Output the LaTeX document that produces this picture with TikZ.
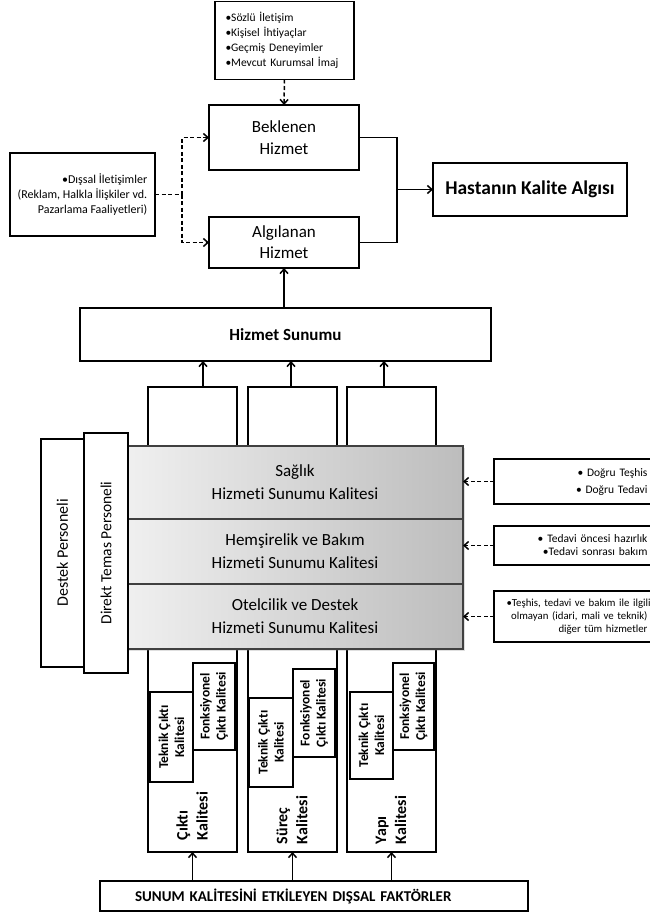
\documentclass[tikz,border=0pt]{standalone}
\usepackage{fontspec}
\setmainfont{Carlito}[Ligatures={NoCommon}]
\usetikzlibrary{arrows.meta,calc,shadows}
\newcommand\fsz[2]{\fontsize{#1}{#2}\selectfont}
\begin{document}
\begin{tikzpicture}[x=1pt,y=-1pt,
  box/.style={draw, line width=1.5pt, inner sep=0pt, outer sep=0pt, align=center, fill=white},
  ln/.style={line width=1.5pt},
  arr/.style={ln, -{Straight Barb[length=4.5pt,width=8pt]}},
  dl/.style={line width=1.5pt, dash pattern=on 4pt off 2.5pt},
  darr/.style={dl, -{Straight Barb[length=4.5pt,width=8pt]}},
  band/.style={draw=black!75, line width=1.2pt, left color=black!6, right color=black!26,
    minimum width=336pt, inner sep=0pt, outer sep=0pt, align=center, font=\fsz{17}{23},
    drop shadow={opacity=0.25, shadow xshift=2pt, shadow yshift=-2pt}},
  rbox/.style={box, minimum width=166pt, text width=141pt, align=right},
  col/.style={box, minimum width=89pt, minimum height=465pt},
  inbox/.style={box, rotate=90, font=\bfseries\fsz{13.5}{16}},
  collab/.style={rotate=90, align=left, font=\bfseries\fsz{16}{20}, inner sep=0pt}
]
\useasboundingbox (0,0) rectangle (650,915);
\clip (0,0) rectangle (650,915);

% top part
\node[box, minimum width=139pt, minimum height=78pt, text width=118pt, align=left, font=\fsz{11.5}{15}] (src) at (284.5,40.5)
  {•Sözlü İletişim\\•Kişisel İhtiyaçlar\\•Geçmiş Deneyimler\\•Mevcut Kurumsal İmaj};
\node[box, minimum width=150pt, minimum height=65pt, font=\fsz{17}{22}] (bek) at (284,137.5) {Beklenen\\Hizmet};
\node[box, minimum width=150pt, minimum height=51pt, font=\fsz{17}{21}] (alg) at (284,242.5) {Algılanan\\Hizmet};
\node[box, minimum width=145pt, minimum height=83pt, align=right, font=\fsz{12}{15}] (dis) at (82.5,194.5)
  {•Dışsal İletişimler\\(Reklam, Halkla İlişkiler vd.\\Pazarlama Faaliyetleri)};
\node[box, minimum width=194pt, minimum height=53pt, font=\bfseries\fsz{19.5}{23}] (hast) at (530,189.5) {Hastanın Kalite Algısı};
\node[box, minimum width=411pt, minimum height=53pt, font=\bfseries\fsz{17}{21}] (hiz) at (285.5,334.5) {Hizmet Sunumu};

\draw[darr] (src.south) -- (bek.north);
\coordinate (jx) at (182,194.5);
\draw[dl] (dis.east) -- (jx);
\draw[darr] (jx) |- (bek.west);
\draw[darr] (jx) |- (alg.west);
\coordinate (mg) at (397,189.5);
\draw[ln] (bek.east) -| (mg);
\draw[ln] (alg.east) -| (mg);
\draw[arr] (mg) -- (hast.west);
\draw[arr] (hiz.north -| alg.south) -- (alg.south);

% columns
\node[col] (c1) at (192.5,619.5) {};
\node[col] (c2) at (292.5,619.5) {};
\node[col] (c3) at (391.5,619.5) {};
\draw[arr] ([xshift=10.5pt]c1.north) -- ([xshift=10.5pt]c1.north |- hiz.south);
\draw[arr] ([xshift=-1.5pt]c2.north) -- ([xshift=-1.5pt]c2.north |- hiz.south);
\draw[arr] ([xshift=-7.5pt]c3.north) -- ([xshift=-7.5pt]c3.north |- hiz.south);

% bands
\node[band, minimum height=73pt] (b1) at (295,482.5) {Sağlık\\Hizmeti Sunumu Kalitesi};
\node[band, minimum height=65pt] (b2) at (295,551.5) {Hemşirelik ve Bakım\\Hizmeti Sunumu Kalitesi};
\node[band, minimum height=65pt] (b3) at (295,616.5) {Otelcilik ve Destek\\Hizmeti Sunumu Kalitesi};

% personnel
\node[box, rotate=90, minimum width=228pt, minimum height=43pt, font=\fsz{16}{20}] (dest) at (62.5,553) {Destek Personeli};
\node[box, rotate=90, minimum width=240pt, minimum height=44pt, font=\fsz{15.5}{20}] (dir) at (106,553) {Direkt Temas Personeli};

% right boxes
\node[rbox, minimum height=45pt, font=\fsz{11.5}{17}] (r1) at (577,481.5) {• Doğru Teşhis\\• Doğru Tedavi};
\node[rbox, minimum height=39pt, font=\fsz{11.5}{13}] (r2) at (577,545.5) {• Tedavi öncesi hazırlık\\•Tedavi sonrası bakım};
\node[rbox, minimum height=51pt, font=\fsz{10.8}{13}] (r3) at (577,616.5) {\mbox{•Teşhis, tedavi ve bakım ile ilgili}\\olmayan (idari, mali ve teknik)\\diğer tüm hizmetler};
\draw[darr] (r1.west) -- (r1.west -| b1.east);
\draw[darr] (r2.west) -- (r2.west -| b2.east);
\draw[darr] (r3.west) -- (r3.west -| b3.east);

% inner boxes
\node[inbox, minimum width=90pt, minimum height=43pt] (t1) at (171.5,737) {Teknik Çıktı\\Kalitesi};
\node[inbox, minimum width=87pt, minimum height=42pt] (f1) at (214,706.5) {Fonksiyonel\\Çıktı Kalitesi};
\node[inbox, minimum width=89pt, minimum height=44pt] (t2) at (271,742.5) {Teknik Çıktı\\Kalitesi};
\node[inbox, minimum width=88pt, minimum height=42pt] (f2) at (314,713) {Fonksiyonel\\Çıktı Kalitesi};
\node[inbox, minimum width=87pt, minimum height=43pt] (t3) at (371.5,735.5) {Teknik Çıktı\\Kalitesi};
\node[inbox, minimum width=87pt, minimum height=41pt] (f3) at (413.5,706.5) {Fonksiyonel\\Çıktı Kalitesi};

\node[collab] (l1) at (192,816) {Çıktı\\Kalitesi};
\node[collab] (l2) at (292,820) {Süreç\\Kalitesi};
\node[collab] (l3) at (391,820) {Yapı\\Kalitesi};

% footer
\node[box, minimum width=428pt, minimum height=30pt, text width=358pt, align=left, font=\bfseries\fsz{15}{18}] (foot) at (314,896)
  {SUNUM KALİTESİNİ ETKİLEYEN DIŞSAL FAKTÖRLER};
\draw[arr] (foot.north -| c1) -- (c1.south);
\draw[arr] (foot.north -| c2) -- (c2.south);
\draw[arr] (foot.north -| c3) -- (c3.south);
\end{tikzpicture}
\end{document}
